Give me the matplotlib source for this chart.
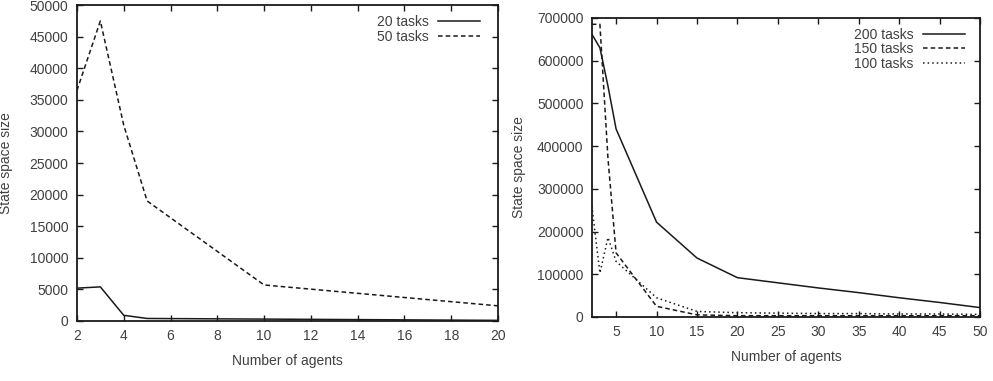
import numpy as np
import matplotlib
matplotlib.use("Agg")
import matplotlib.pyplot as plt

plt.rcParams["font.family"] = ["Liberation Sans", "DejaVu Sans"]

# left panel: 20 / 50 tasks
agents_a = [2, 3, 4, 5, 10, 20]
tasks20 = [5200, 5400, 900, 400, 300, 100]
tasks50 = [36500, 47500, 31000, 19000, 5700, 2400]

# right panel: 200 / 150 / 100 tasks
agents_b = [2, 3, 4, 5, 10, 15, 20, 25, 30, 35, 40, 45, 50]
tasks200 = [662000, 630000, 540000, 440000, 222000, 138000, 92000,
            80000, 68000, 57000, 45000, 34000, 22000]
tasks150 = [685000, 685000, 370000, 150000, 25000, 5000, 3000,
            3000, 3000, 3000, 3000, 3000, 3000]
tasks100 = [260000, 103000, 186000, 130000, 45000, 13000, 10000,
            9000, 8000, 8000, 7000, 7000, 6000]

txt = "#404040"
ln = "#1a1a1a"
fs = 10


def style_axes(ax):
    ax.tick_params(direction="in", top=True, right=True, length=4,
                   width=1, labelsize=fs, labelcolor=txt, color=ln, pad=6)
    for s in ax.spines.values():
        s.set_linewidth(1.3)
        s.set_color(ln)


fig = plt.figure(figsize=(9.93, 3.81), dpi=100)

ax1 = fig.add_axes([0.0775, 0.1575, 0.424, 0.829])
ax1.plot(agents_a, tasks20, color=ln, lw=1.1, label="20 tasks")
ax1.plot(agents_a, tasks50, color=ln, lw=1.1, dashes=(3, 2), label="50 tasks")
ax1.set_xlim(2, 20)
ax1.set_ylim(0, 50000)
ax1.set_xticks(range(2, 21, 2))
ax1.set_yticks(range(0, 50001, 5000))
style_axes(ax1)
ax1.set_xlabel("Number of agents", fontsize=fs, color=txt, labelpad=8)
ax1.set_ylabel("State space size", fontsize=fs, color=txt)
ax1.yaxis.set_label_coords(-0.152, 0.5)
ax1.legend(loc="upper right", frameon=False, markerfirst=False, fontsize=fs,
           handlelength=3.0, handletextpad=0.7, labelspacing=0.05,
           borderaxespad=0.3, bbox_to_anchor=(0.98, 1.0), labelcolor=txt)

ax2 = fig.add_axes([0.596, 0.168, 0.391, 0.785])
ax2.plot(agents_b, tasks200, color=ln, lw=1.1, label="200 tasks")
ax2.plot(agents_b, tasks150, color=ln, lw=1.1, dashes=(3, 2), label="150 tasks")
ax2.plot(agents_b, tasks100, color=ln, lw=1.1, dashes=(1, 2), label="100 tasks")
ax2.set_xlim(2, 50)
ax2.set_ylim(0, 700000)
ax2.set_xticks(range(5, 51, 5))
ax2.set_yticks(range(0, 700001, 100000))
style_axes(ax2)
ax2.set_xlabel("Number of agents", fontsize=fs, color=txt, labelpad=8)
ax2.set_ylabel("State space size", fontsize=fs, color=txt, labelpad=8)
ax2.legend(loc="upper right", frameon=False, markerfirst=False, fontsize=fs,
           handlelength=3.0, handletextpad=0.7, labelspacing=0.05,
           borderaxespad=0.3, bbox_to_anchor=(0.985, 1.0), labelcolor=txt)

fig.savefig("out.png", dpi=100)
